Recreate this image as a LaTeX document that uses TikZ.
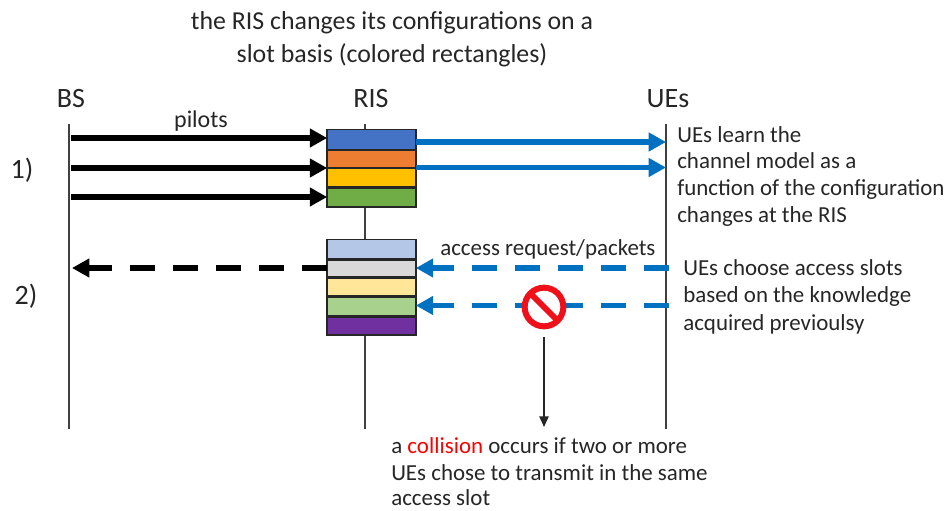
\documentclass[tikz,border=0pt]{standalone}
\usepackage{fontspec}
\setmainfont{Carlito}
\usetikzlibrary{arrows.meta}
\definecolor{ablue}{HTML}{0070C0}
\definecolor{nored}{HTML}{F0101A}
\definecolor{c1}{HTML}{4472C4}\definecolor{c2}{HTML}{ED7D31}\definecolor{c3}{HTML}{FFC000}\definecolor{c4}{HTML}{70AD47}
\definecolor{d1}{HTML}{B4C7E7}\definecolor{d2}{HTML}{D9D9D9}\definecolor{d3}{HTML}{FFE699}\definecolor{d4}{HTML}{A9D18E}\definecolor{d5}{HTML}{7030A0}
\tikzset{
 px/.style={x=0.75pt,y=-0.75pt},
 life/.style={draw=black!75,line width=1.1pt},
 slotbox/.style={draw=black!85,line width=1.2pt,minimum width=66.5pt,inner sep=0pt,outer sep=0pt},
 lbl/.style={inner sep=0pt,font=\fontsize{17.2pt}{20pt}\selectfont,anchor=base west,text=black!85},
 head/.style={inner sep=0pt,font=\fontsize{21pt}{24pt}\selectfont,anchor=base,text=black!85},
 title/.style={inner sep=0pt,font=\fontsize{19.4pt}{22pt}\selectfont,anchor=base,text=black!85},
 solidarrow/.style={line width=4pt,-{Triangle[length=13pt,width=13.5pt]}},
 bluearrow/.style={line width=4pt,draw=ablue,color=ablue,-{Triangle[length=13pt,width=13.5pt]}},
 dasharrow/.style={line width=4pt,dash pattern=on 18.75pt off 13.5pt,-{Triangle[length=13pt,width=13.5pt]}},
}
\begin{document}
\begin{tikzpicture}[px]
\useasboundingbox (0,0) rectangle (944,510);
\fill[white] (0,0) rectangle (944,510);
\coordinate (bsT) at (69,124); \coordinate (bsB) at (69,429);
\coordinate (risT) at (365,124); \coordinate (risB) at (365,429);
\coordinate (ueT) at (666,124); \coordinate (ueB) at (666,429);
\draw[life] (bsT)--(bsB);
\draw[life] (risT)--(risB);
\draw[life] (ueT)--(ueB);
\foreach \n/\y/\h/\c in {a1/139.5/15/c1,a2/159/13.5/c2,a3/177.5/14/c3,a4/197.5/14.5/c4,b1/249/14/d1,b2/268.5/13/d2,b3/287/13.5/d3,b4/306.5/14/d4,b5/326/13.5/d5}{
 \node[slotbox,fill=\c,minimum height=\h pt] (\n) at (371.5,\y) {};
}
\node[title] (tt1) at (392,30) {the RIS changes its configurations on a};
\node[title] (tt2) at (392,62) {slot basis (colored rectangles)};
\node[head] (bs) at (71,107) {BS};
\node[head] (ris) at (371,107) {RIS};
\node[head] (ue) at (668,107) {UEs};
\node[head] (n1) at (22,178) {1)};
\node[head] (n2) at (26,304) {2)};
\coordinate (p1) at (71,138); \coordinate (p2) at (71,168); \coordinate (p3) at (71,197);
\draw[solidarrow] (p1)--(a1.west|-p1);
\draw[solidarrow] (p2)--(a3.west|-p2);
\draw[solidarrow] (p3)--(a4.west|-p3);
\node[inner sep=0pt,font=\fontsize{18pt}{20pt}\selectfont,anchor=base,text=black!85] (pil) at (201,127) {pilots};
\coordinate (u1) at (666,142); \coordinate (u2) at (666,167.5);
\draw[bluearrow] (a1.east|-u1)--(u1);
\draw[bluearrow] (a3.east|-u2)--(u2);
\node[lbl] (l1) at (677,142) {UEs learn the};
\node[lbl] (l2) at (677,168) {channel model as a};
\node[lbl] (l3) at (677,195) {function of the configuration};
\node[lbl] (l4) at (677,222) {changes at the RIS};
\node[lbl] (r0) at (440,255) {access request/packets};
\coordinate (d0) at (327,268); \coordinate (d6) at (72,268);
\draw[dasharrow] (d0)--(d6);
\coordinate (e1) at (669,268); \coordinate (e2) at (669,305.5);
\draw[dasharrow,draw=ablue,color=ablue] (e1)--(b2.east|-e1);
\draw[dasharrow,draw=ablue,color=ablue] (e2)--(b4.east|-e2);
\node[lbl] (m1) at (683,275) {UEs choose access slots};
\node[lbl] (m2) at (683,302) {based on the knowledge};
\node[lbl] (m3) at (683,330) {acquired previoulsy};
\node[circle,draw=nored,line width=4.5pt,fill=white,minimum size=29pt,inner sep=0pt,outer sep=0pt] (no) at (544,307) {};
\draw[nored,line width=4.5pt] (no.135)--(no.315);
\coordinate (cl) at (544,427);
\coordinate (cs) at (544,337);
\draw[line width=1pt,black!85,-{Triangle[length=8pt,width=7pt]}] (cs)--(cl);
\node[lbl] (c5) at (391,453) {a \textcolor{red}{collision} occurs if two or more};
\node[lbl] (c6) at (391,480) {UEs chose to transmit in the same};
\node[lbl] (c7) at (391,505) {access slot};
\end{tikzpicture}
\end{document}
